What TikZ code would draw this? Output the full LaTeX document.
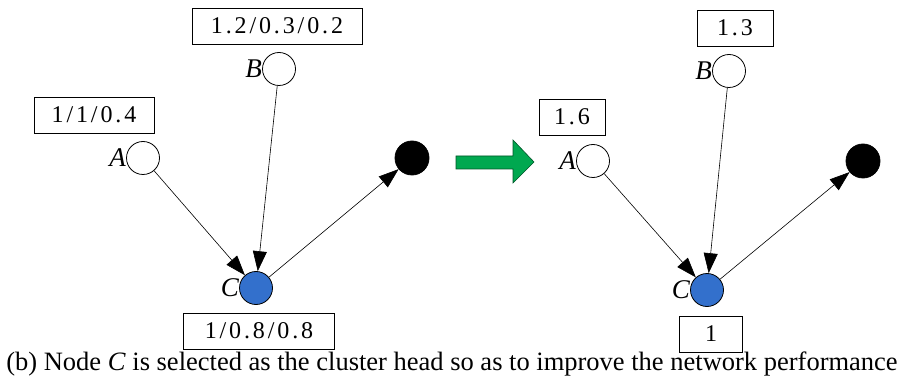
\documentclass[tikz,border=0pt]{standalone}
\usepackage{fontspec}
\setmainfont{Liberation Serif}
\newfontfamily\valfont{Liberation Serif}[LetterSpace=12]
\usetikzlibrary{arrows.meta}
\definecolor{headblue}{RGB}{51,112,204}
\definecolor{shiftgreen}{RGB}{0,168,80}
\tikzset{
  sensor/.style={circle,draw,line width=0.8pt,minimum size=33pt,inner sep=0pt},
  valbox/.style={draw,line width=0.8pt,minimum height=36pt,inner sep=0pt,font=\fontsize{24}{24}\valfont},
  link/.style={-{Triangle[length=20pt,width=14pt]},line width=0.6pt},
  letter/.style={font=\fontsize{27}{27}\selectfont\itshape,inner sep=0pt}
}

\begin{document}
\begin{tikzpicture}[x=1pt,y=-1pt]
  \useasboundingbox (0,0) rectangle (904,387);
  % before
  \node[sensor,label={[letter]left:A}] (a1) at (143,158) {};
  \node[sensor,label={[letter]left:B}] (b1) at (279,69) {};
  \node[sensor,fill=headblue,label={[letter]left:C}] (c1) at (256,288) {};
  \node[sensor,fill=black,minimum size=34pt] (s1) at (412,158) {};
  \node[valbox,minimum width=120pt] (va1) at (94,115) {1/1/0.4};
  \node[valbox,minimum width=170pt] (vb1) at (277,26) {1.2/0.3/0.2};
  \node[valbox,minimum width=151pt] (vc1) at (259,331) {1/0.8/0.8};
  \draw[link] (a1) -- (c1);
  \draw[link] (b1) -- (c1);
  \draw[link] (c1) -- (s1);
  % shift arrow
  \filldraw[fill=shiftgreen,draw=black!50!shiftgreen,line width=0.6pt]
    (456,156) -- (513,156) -- (513,140) -- (534,162) -- (513,183) -- (513,169) -- (456,169) -- cycle;
  % after
  \node[sensor,label={[letter]left:A}] (a2) at (593,161) {};
  \node[sensor,label={[letter]left:B}] (b2) at (729,71) {};
  \node[sensor,fill=headblue,label={[letter]left:C}] (c2) at (707,290) {};
  \node[sensor,fill=black,minimum size=34pt] (s2) at (863,161) {};
  \node[valbox,minimum width=66pt] (va2) at (572,117) {1.6};
  \node[valbox,minimum width=76pt] (vb2) at (735,28) {1.3};
  \node[valbox,minimum width=63pt] (vc2) at (711,334) {1};
  \draw[link] (a2) -- (c2);
  \draw[link] (b2) -- (c2);
  \draw[link] (c2) -- (s2);
  \node[font=\fontsize{26.5}{26.5}\selectfont,inner sep=0pt] (cap) at (452,364)
    {(b) Node \textit{C} is selected as the cluster head so as to improve the network performance};
\end{tikzpicture}
\end{document}
